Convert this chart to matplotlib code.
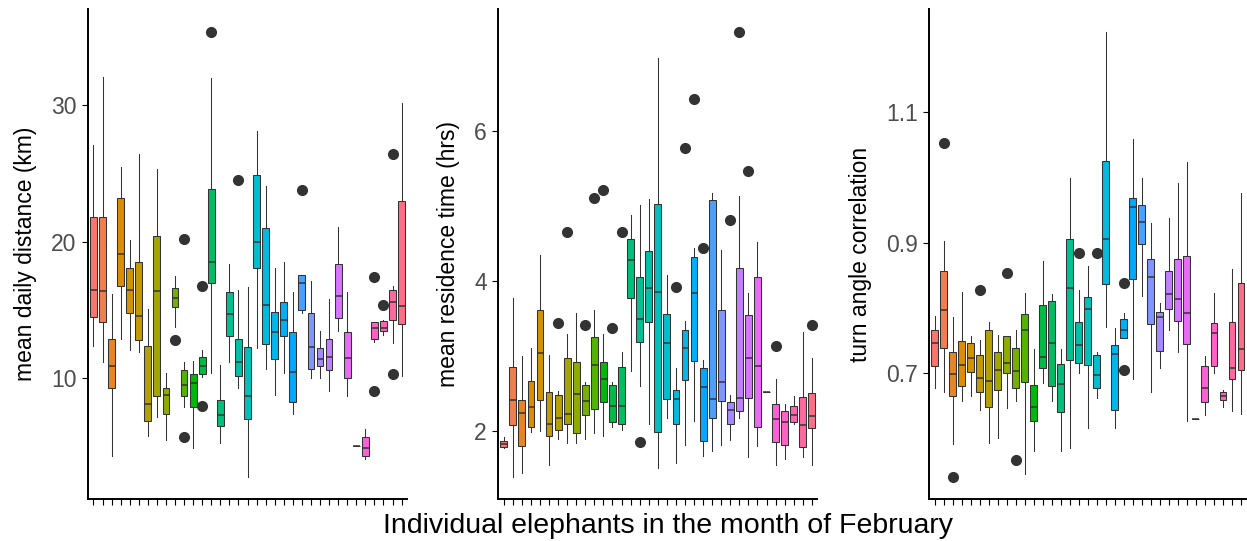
import numpy as np
import matplotlib
matplotlib.use("Agg")
import matplotlib.pyplot as plt

plt.rcParams['font.family'] = ['Liberation Sans', 'DejaVu Sans']

# 35 elephants, same order in every panel
elephants = list(range(1, 36))

# mean daily distance (km)
dist_lo = [12.4, 11.2, 4.3, 12.9, 12.1, 11.9, 5.8, 7.2, 5.5, 13.8, 7.9, 4.9, 10.1, 10.4, 5.3, 11.2, 9.3, 2.8,
           12.2, 10.7, 8.8, 10.4, 7.4, 14.8, 10.0, 10.0, 9.1, 13.5, 8.7, 5.05, 4.1, 12.7, 13.2, 12.6, 10.2]
dist_q1 = [14.5, 14.1, 9.3, 16.8, 14.8, 12.8, 6.9, 8.7, 7.4, 15.2, 8.7, 7.9, 10.3, 17.0, 6.5, 13.1, 10.2, 7.0,
           18.1, 12.5, 11.4, 13.1, 8.3, 15.0, 10.7, 10.9, 10.6, 14.4, 10.0, 5.05, 4.3, 12.9, 13.5, 14.3, 14.0]
dist_med = [16.5, 16.4, 10.9, 19.1, 16.5, 14.6, 8.1, 16.4, 8.8, 15.9, 9.5, 9.7, 10.9, 18.5, 7.3, 14.7, 11.2, 8.7,
            20.0, 15.4, 13.4, 14.3, 10.5, 17.0, 12.3, 11.4, 11.6, 16.0, 11.5, 5.05, 4.9, 13.7, 13.7, 15.6, 15.3]
dist_q3 = [21.8, 21.8, 12.9, 23.2, 18.1, 18.5, 12.4, 20.4, 9.3, 16.6, 10.6, 10.3, 11.6, 23.9, 8.4, 16.3, 12.9, 12.3,
           24.9, 21.0, 14.9, 15.6, 13.4, 17.6, 14.8, 12.2, 12.9, 18.4, 13.4, 5.05, 5.7, 14.1, 14.2, 16.5, 23.0]
dist_hi = [27.1, 32.1, 16.2, 25.5, 20.1, 26.4, 15.1, 25.3, 10.4, 17.5, 11.2, 11.3, 12.1, 32.0, 11.0, 18.4, 16.5, 16.7,
           28.1, 24.1, 18.1, 18.5, 16.3, 17.6, 17.1, 13.5, 15.8, 21.1, 16.3, 5.05, 6.3, 14.1, 14.3, 16.8, 30.2]
dist_out = [[], [], [], [], [], [], [], [], [], [12.8], [20.2, 5.7], [], [16.8, 8.0], [35.4], [], [], [24.5], [],
            [], [], [], [], [], [23.8], [], [], [], [], [], [], [], [17.4, 9.1], [15.4], [26.4, 10.3], []]

# mean residence time (hrs)
res_lo = [1.78, 1.39, 1.44, 1.99, 2.00, 1.54, 1.90, 1.84, 1.84, 1.90, 1.97, 1.93, 2.05, 2.01, 2.80, 2.60, 2.09, 1.50,
          2.17, 1.58, 1.81, 2.13, 1.67, 1.73, 1.81, 1.88, 2.18, 1.66, 1.80, 2.52, 1.54, 1.63, 2.09, 1.65, 1.54]
res_q1 = [1.79, 2.08, 1.80, 2.06, 2.42, 1.94, 2.01, 2.10, 1.98, 2.21, 2.30, 2.39, 2.12, 2.10, 3.77, 3.19, 3.46, 1.99,
          2.43, 2.09, 2.68, 2.93, 1.87, 2.18, 2.40, 2.10, 2.27, 2.44, 2.06, 2.52, 1.85, 1.82, 2.12, 1.79, 2.04]
res_med = [1.83, 2.42, 2.24, 2.32, 3.04, 2.10, 2.17, 2.23, 2.49, 2.40, 2.88, 2.70, 2.34, 2.34, 4.28, 3.49, 3.91, 3.85,
           3.17, 2.43, 3.11, 3.84, 2.59, 2.43, 2.66, 2.28, 2.44, 2.98, 2.87, 2.52, 2.16, 2.12, 2.22, 2.08, 2.20]
res_q3 = [1.87, 2.85, 2.42, 2.67, 3.61, 2.52, 2.48, 2.98, 2.92, 2.61, 3.25, 2.92, 2.61, 2.86, 4.56, 4.05, 4.40, 5.03,
          3.56, 2.55, 3.35, 4.32, 2.84, 5.08, 3.61, 2.39, 4.18, 3.55, 4.06, 2.52, 2.36, 2.27, 2.33, 2.46, 2.51]
res_hi = [1.92, 3.77, 3.00, 3.11, 4.35, 3.01, 2.53, 3.30, 3.58, 2.66, 3.61, 3.29, 2.66, 3.06, 4.88, 5.02, 5.10, 6.98,
          4.08, 2.84, 3.47, 4.44, 2.95, 5.18, 4.42, 2.48, 5.13, 3.84, 4.52, 2.52, 2.69, 2.36, 2.47, 3.32, 2.97]
res_out = [[], [], [], [], [], [], [3.44], [4.66], [], [3.42], [5.11], [5.22], [3.37], [4.66], [], [1.86], [], [],
           [], [3.92], [5.78], [6.43], [4.44], [], [], [4.82], [7.33], [5.47], [], [], [3.14], [], [], [], [3.41]]

# turn angle correlation
turn_lo = [0.677, 0.672, 0.592, 0.658, 0.666, 0.644, 0.594, 0.602, 0.647, 0.658, 0.546, 0.582, 0.686, 0.658, 0.582,
           0.586, 0.701, 0.617, 0.663, 0.771, 0.617, 0.754, 0.692, 0.819, 0.671, 0.709, 0.767, 0.733, 0.627, 0.630,
           0.636, 0.701, 0.649, 0.643, 0.638]
turn_q1 = [0.711, 0.739, 0.666, 0.681, 0.702, 0.671, 0.649, 0.674, 0.700, 0.678, 0.687, 0.627, 0.708, 0.681, 0.641,
           0.721, 0.716, 0.713, 0.678, 0.837, 0.644, 0.754, 0.844, 0.898, 0.776, 0.734, 0.798, 0.781, 0.745, 0.630,
           0.657, 0.712, 0.659, 0.691, 0.705]
turn_med = [0.747, 0.797, 0.699, 0.713, 0.723, 0.693, 0.689, 0.705, 0.716, 0.704, 0.766, 0.649, 0.725, 0.747, 0.684,
            0.831, 0.744, 0.799, 0.697, 0.905, 0.730, 0.766, 0.954, 0.931, 0.847, 0.787, 0.822, 0.814, 0.793, 0.630,
            0.677, 0.762, 0.665, 0.708, 0.737]
turn_q3 = [0.767, 0.856, 0.733, 0.749, 0.747, 0.728, 0.766, 0.733, 0.757, 0.739, 0.791, 0.683, 0.805, 0.811, 0.715,
           0.905, 0.778, 0.817, 0.728, 1.025, 0.743, 0.784, 0.969, 0.958, 0.875, 0.794, 0.857, 0.875, 0.880, 0.630,
           0.711, 0.777, 0.671, 0.779, 0.838]
turn_hi = [0.788, 0.903, 0.786, 0.824, 0.757, 0.751, 0.779, 0.759, 0.757, 0.766, 0.823, 0.737, 0.872, 0.822, 0.737,
           0.999, 0.828, 0.865, 0.733, 1.223, 0.770, 0.793, 1.058, 0.999, 0.930, 0.808, 0.938, 0.991, 1.023, 0.630,
           0.726, 0.823, 0.675, 0.860, 0.976]
turn_out = [[], [1.053], [0.542], [], [], [0.828], [], [], [0.853], [0.567], [], [], [], [], [], [], [0.884], [],
            [0.885], [], [], [0.838, 0.705], [], [], [], [], [], [], [], [], [], [], [], [], []]

ylabels = ["mean daily distance (km)", "mean residence time (hrs)", "turn angle correlation"]
yticks = [[10, 20, 30], [2, 4, 6], [0.7, 0.9, 1.1]]
yticklabels = [["10", "20", "30"], ["2", "4", "6"], ["0.7", "0.9", "1.1"]]


def hue_pal(n, l=65, c=100):
    # ggplot2 default discrete palette (hcl, polar Luv)
    h = np.deg2rad(np.linspace(15, 375, n + 1)[:n])
    Xn, Yn, Zn = 0.95047, 1.0, 1.08883
    un = 4 * Xn / (Xn + 15 * Yn + 3 * Zn)
    vn = 9 * Yn / (Xn + 15 * Yn + 3 * Zn)
    Y = Yn * ((l + 16) / 116) ** 3
    up = c * np.cos(h) / (13 * l) + un
    vp = c * np.sin(h) / (13 * l) + vn
    X = Y * 9 * up / (4 * vp)
    Z = Y * (12 - 3 * up - 20 * vp) / (4 * vp)
    M = np.array([[3.2404542, -1.5371385, -0.4985314],
                  [-0.9692660, 1.8760108, 0.0415560],
                  [0.0556434, -0.2040259, 1.0572252]])
    rgb = M @ np.vstack([X, Y * np.ones_like(X), Z])
    rgb = np.where(rgb > 0.0031308, 1.055 * np.abs(rgb) ** (1 / 2.4) - 0.055, 12.92 * rgb)
    return np.clip(rgb.T, 0, 1)


colors = hue_pal(len(elephants))
W, H = 1247, 541
lefts = [88, 498.3, 929.3]
widths = [319, 319, 317]
bottom, top = 499, 9.3

panels = [
    (dist_lo, dist_q1, dist_med, dist_q3, dist_hi, dist_out),
    (res_lo, res_q1, res_med, res_q3, res_hi, res_out),
    (turn_lo, turn_q1, turn_med, turn_q3, turn_hi, turn_out),
]

fig = plt.figure(figsize=(W / 100, H / 100), dpi=100)
for k, (lo, q1, med, q3, hi, out) in enumerate(panels):
    ax = fig.add_axes([lefts[k] / W, (H - bottom) / H, widths[k] / W, (bottom - top) / H])
    stats = [dict(whislo=a, q1=b, med=m, q3=d, whishi=e, fliers=f)
             for a, b, m, d, e, f in zip(lo, q1, med, q3, hi, out)]
    bp = ax.bxp(stats, positions=range(len(elephants)), widths=0.75, patch_artist=True,
                showcaps=False,
                boxprops=dict(edgecolor='#333333', linewidth=0.75),
                whiskerprops=dict(color='#333333', linewidth=0.75),
                medianprops=dict(color='#333333', linewidth=1.1),
                flierprops=dict(marker='o', markerfacecolor='#333333', markeredgecolor='#333333',
                                markersize=7))
    for patch, col in zip(bp['boxes'], colors):
        patch.set_facecolor(col)

    allv = np.concatenate([lo, hi, [v for f in out for v in f]])
    span = allv.max() - allv.min()
    ax.set_ylim(allv.min() - 0.05 * span, allv.max() + 0.05 * span)
    ax.set_xlim(-0.6, len(elephants) - 0.4)

    ax.set_xticks(range(len(elephants)))
    ax.set_xticklabels([])
    ax.set_yticks(yticks[k])
    ax.set_yticklabels(yticklabels[k])
    ax.tick_params(axis='both', length=4.0, width=0.8, color='black', pad=4.3,
                   labelsize=16.5, labelcolor='#4D4D4D')
    for s in ['top', 'right']:
        ax.spines[s].set_visible(False)
    for s in ['left', 'bottom']:
        ax.spines[s].set_linewidth(1.4)
        ax.spines[s].set_color('black')
    ax.set_ylabel(ylabels[k], fontsize=16.5, color='black', labelpad=10.3)
    ax.patch.set_alpha(0)

fig.text(667.5 / W, (H - 533) / H, "Individual elephants in the month of February",
         ha='center', va='baseline', fontsize=20.5, color='black')

fig.savefig("out.png", dpi=100, facecolor='white')
